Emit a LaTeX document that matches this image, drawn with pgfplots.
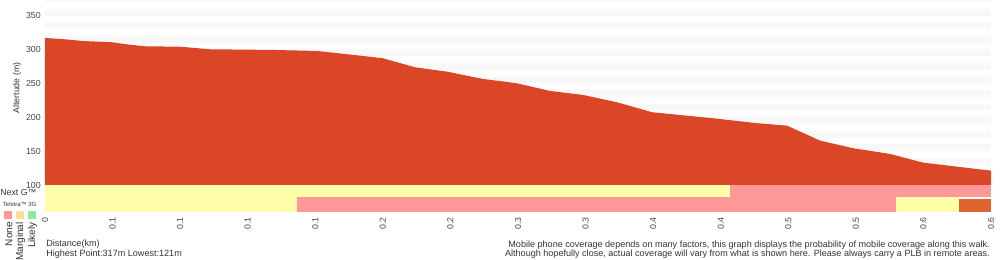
\documentclass[border=0pt]{standalone}
\usepackage{pgfplots}
\pgfplotsset{compat=1.18}
\usepackage{fontspec}
\setmainfont{Liberation Sans}
\definecolor{elev}{HTML}{DA4626}
\definecolor{stripe}{HTML}{F8F8F8}
\definecolor{cyel}{HTML}{FFFFAA}
\definecolor{cpink}{HTML}{FF9999}
\definecolor{corange}{HTML}{E0642F}
\definecolor{cpeach}{HTML}{FFDD99}
\definecolor{cgreen}{HTML}{88EE99}
\definecolor{txt}{HTML}{333333}
\definecolor{tick}{HTML}{444444}
\newcommand\sm{\fontsize{6.6}{7.5}\selectfont}
\newcommand\tx{\fontsize{6.8}{7.5}\selectfont}
\begin{document}
\begin{tikzpicture}
\path[use as bounding box] (0pt,0pt) rectangle (750pt,-195pt);
% elevation profile
\begin{axis}[
  at={(33.75pt,0pt)}, anchor=north west,
  scale only axis, width=709.5pt, height=138.75pt,
  xmin=0, xmax=14, ymin=100, ymax=373,
  axis line style={draw=none},
  tick style={draw=none},
  ytick={100,150,200,250,300,350},
  xtick=\empty,
  major tick length=0pt,
  /pgf/number format/assume math mode=true,
  yticklabel style={font=\sm, text=tick, inner sep=0pt, xshift=-3pt},
  ylabel={Altertude (m)},
  ylabel style={font=\sm, text=txt, at={(axis description cs:-0.0296,0.524)}, anchor=center},
  clip=true,
]
\addplot[fill=stripe,draw=none] coordinates {(0,110)(14,110)(14,120)(0,120)} --cycle;
\addplot[fill=stripe,draw=none] coordinates {(0,130)(14,130)(14,140)(0,140)} --cycle;
\addplot[fill=stripe,draw=none] coordinates {(0,150)(14,150)(14,160)(0,160)} --cycle;
\addplot[fill=stripe,draw=none] coordinates {(0,170)(14,170)(14,180)(0,180)} --cycle;
\addplot[fill=stripe,draw=none] coordinates {(0,190)(14,190)(14,200)(0,200)} --cycle;
\addplot[fill=stripe,draw=none] coordinates {(0,210)(14,210)(14,220)(0,220)} --cycle;
\addplot[fill=stripe,draw=none] coordinates {(0,230)(14,230)(14,240)(0,240)} --cycle;
\addplot[fill=stripe,draw=none] coordinates {(0,250)(14,250)(14,260)(0,260)} --cycle;
\addplot[fill=stripe,draw=none] coordinates {(0,270)(14,270)(14,280)(0,280)} --cycle;
\addplot[fill=stripe,draw=none] coordinates {(0,290)(14,290)(14,300)(0,300)} --cycle;
\addplot[fill=stripe,draw=none] coordinates {(0,310)(14,310)(14,320)(0,320)} --cycle;
\addplot[fill=stripe,draw=none] coordinates {(0,330)(14,330)(14,340)(0,340)} --cycle;
\addplot[fill=stripe,draw=none] coordinates {(0,350)(14,350)(14,360)(0,360)} --cycle;
\addplot[fill=stripe,draw=none] coordinates {(0,370)(14,370)(14,380)(0,380)} --cycle;
\addplot[fill=elev, draw=none] coordinates {
(0,317)(0.296,315)(0.562,312.5)(0.992,310.6)(1.258,307)(1.48,304.7)(1.998,304.1)
(2.442,300.3)(3.374,299.3)(4.025,297.8)(4.662,290.9)(5.002,287)(5.476,273.7)
(5.949,267.3)(6.482,256.5)(6.985,250.1)(7.474,238.8)(7.962,232.9)(8.465,222.1)
(8.983,207.4)(9.886,198.5)(10.537,191.2)(10.981,187.6)(11.47,165.5)(11.958,154.3)
(12.505,145.9)(12.994,133)(13.497,127.1)(14,121.2)} -- (axis cs:14,90) -- (axis cs:0,90) -- cycle;
\end{axis}
% coverage bands
\begin{axis}[
  at={(33.75pt,-138.75pt)}, anchor=north west,
  scale only axis, width=709.5pt, height=20.25pt,
  xmin=0, xmax=14, ymin=0, ymax=27,
  axis line style={draw=none},
  tick style={draw=none},
  ytick=\empty,
  xtick={0,1,...,14},
  xticklabels={0,0.1,0.1,0.1,0.1,0.2,0.2,0.3,0.3,0.4,0.4,0.5,0.5,0.6,0.6},
  major tick length=0pt,
  xticklabel style={font=\sm, text=tick, inner sep=0pt, yshift=-3.8pt, rotate=90, anchor=east},
]
% Next G row
\addplot[fill=cyel,draw=none] coordinates {(0,15)(10.14,15)(10.14,27)(0,27)} --cycle;
\addplot[fill=cpink,draw=none] coordinates {(10.14,15)(14,15)(14,27)(10.14,27)} --cycle;
% Telstra 3G row
\addplot[fill=cyel,draw=none] coordinates {(0,0)(3.73,0)(3.73,15)(0,15)} --cycle;
\addplot[fill=cpink,draw=none] coordinates {(3.73,0)(12.59,0)(12.59,15)(3.73,15)} --cycle;
\addplot[fill=cyel,draw=none] coordinates {(12.59,0)(13.53,0)(13.53,15)(12.59,15)} --cycle;
\addplot[fill=corange,draw=none] coordinates {(13.53,0)(14,0)(14,13)(13.53,13)} --cycle;
\end{axis}
% labels and legend
\node[anchor=west, inner sep=0pt, text=txt, font=\sm] at (0pt,-144.4pt) {Next G™};
\node[anchor=west, inner sep=0pt, text=txt, font=\fontsize{4.5}{5}\selectfont] at (2pt,-153pt) {Telstra™ 3G};
\fill[cpink] (3pt,-158.25pt) rectangle (9.2pt,-164.25pt);
\fill[cpeach] (12pt,-158.25pt) rectangle (18.2pt,-164.25pt);
\fill[cgreen] (21pt,-158.25pt) rectangle (27pt,-164.25pt);
\node[rotate=90, anchor=east, inner sep=0pt, text=txt, font=\fontsize{7.5}{8}\selectfont] at (6.75pt,-166.5pt) {None};
\node[rotate=90, anchor=east, inner sep=0pt, text=txt, font=\fontsize{7.5}{8}\selectfont] at (15.4pt,-166.5pt) {Marginal};
\node[rotate=90, anchor=east, inner sep=0pt, text=txt, font=\fontsize{7.5}{8}\selectfont] at (24.4pt,-166.5pt) {Likely};
\node[anchor=base west, inner sep=0pt, text=txt, font=\tx] at (34.5pt,-185pt) {Distance(km)};
\node[anchor=base west, inner sep=0pt, text=txt, font=\tx] at (34.5pt,-192pt) {Highest Point:317m Lowest:121m};
\node[anchor=base east, inner sep=0pt, text=txt, font=\tx] at (742.5pt,-185.25pt) {Mobile phone coverage depends on many factors, this graph displays the probability of mobile coverage along this walk.};
\node[anchor=base east, inner sep=0pt, text=txt, font=\tx] at (742.5pt,-192pt) {Although hopefully close, actual coverage will vary from what is shown here. Please always carry a PLB in remote areas.};
\end{tikzpicture}
\end{document}
